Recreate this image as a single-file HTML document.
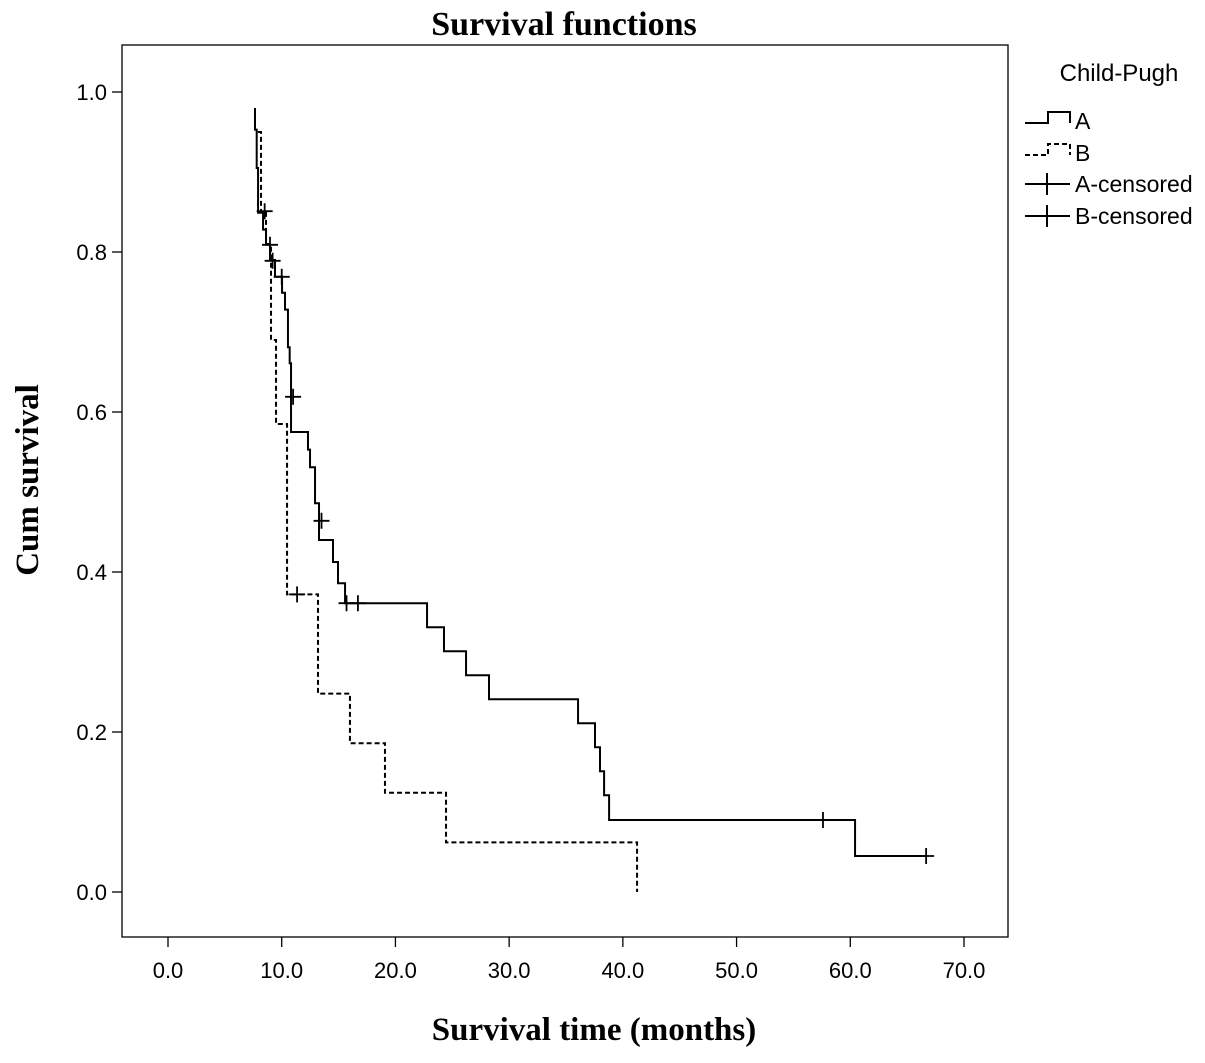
<!DOCTYPE html>
<html><head><meta charset="utf-8"><style>
body{margin:0;background:#fff}
svg text{font-family:"Liberation Sans",sans-serif}
</style></head><body>
<svg id="chart" width="1205" height="1058" xmlns="http://www.w3.org/2000/svg">
<rect width="1205" height="1058" fill="#fff"/>
<text x="564" y="35" text-anchor="middle" style="font-family:'Liberation Serif',serif" font-weight="bold" font-size="34">Survival functions</text>
<rect x="122" y="45" width="886" height="892" fill="none" stroke="#000" stroke-width="1.3"/>
<g id="axes"></g>
<g id="series"></g>
<text transform="translate(38,480) rotate(-90)" text-anchor="middle" style="font-family:'Liberation Serif',serif" font-weight="bold" font-size="33">Cum survival</text>
<text x="594" y="1040" text-anchor="middle" style="font-family:'Liberation Serif',serif" font-weight="bold" font-size="33">Survival time (months)</text>
<g>
<text x="1119" y="81" text-anchor="middle" font-size="24">Child-Pugh</text>
<path d="M1025,123 H1048 V112 H1070 V123" fill="none" stroke="#000" stroke-width="2"/>
<text x="1075" y="129" font-size="23">A</text>
<path d="M1025,155 H1048 V144 H1070 V155" fill="none" stroke="#000" stroke-width="2" stroke-dasharray="5,3"/>
<text x="1075" y="161" font-size="23">B</text>
<path d="M1025,184 H1070 M1047,173 V195" stroke="#000" stroke-width="2"/>
<text x="1075" y="192" font-size="23">A-censored</text>
<path d="M1025,216 H1070 M1047,205 V227" stroke="#000" stroke-width="2"/>
<text x="1075" y="224" font-size="23">B-censored</text>
</g>
</svg>
<script>
const xTicks=[0,10,20,30,40,50,60,70];
const yTicks=[0,0.2,0.4,0.6,0.8,1.0];
const aStart=[7.65,0.98];
const aTimes=[7.65,7.8,7.92,8.36,8.62,8.97,9.41,10.03,10.29,10.55,10.7,10.82,12.31,12.49,12.93,13.28,14.51,14.95,15.57,22.78,24.27,26.21,28.23,36.06,37.55,37.99,38.35,38.79,60.42];
const aSurv=[0.953,0.905,0.849,0.828,0.809,0.79,0.769,0.749,0.728,0.681,0.661,0.575,0.553,0.531,0.486,0.44,0.4125,0.386,0.361,0.331,0.301,0.271,0.241,0.211,0.181,0.151,0.121,0.09,0.045];
const aEnd=66.67;
const aCensT=[8.5,8.97,9.2,10.0,11.0,13.5,15.7,16.7,57.6,66.67];
const aCensS=[0.851,0.809,0.789,0.769,0.619,0.464,0.361,0.361,0.09,0.045];
const bStart=[7.9,0.95];
const bTimes=[8.18,8.62,9.06,9.5,10.47,13.19,16.0,19.08,24.45,41.25];
const bSurv=[0.85,0.81,0.69,0.585,0.372,0.248,0.186,0.124,0.062,0];
const bCensT=[11.35];
const bCensS=[0.372];
const NS="http://www.w3.org/2000/svg";
const X=t=>168+t*(964-168)/70, Y=s=>892-800*s;
function mk(tag,attrs,parent){const e=document.createElementNS(NS,tag);for(const k in attrs)e.setAttribute(k,attrs[k]);parent.appendChild(e);return e;}
const ax=document.getElementById('axes'), se=document.getElementById('series');
xTicks.forEach(v=>{
 const l=mk('line',{x1:X(v),x2:X(v),y1:937,y2:947,stroke:'#000','stroke-width':1.3},ax);
 
 
 const t=mk('text',{x:X(v),y:978,'text-anchor':'middle','font-size':22},ax);t.textContent=v.toFixed(1);
 
 
});
yTicks.forEach(v=>{
 const l=mk('line',{x1:112,x2:122,y1:Y(v),y2:Y(v),stroke:'#000','stroke-width':1.3},ax);
 
 
 const t=mk('text',{x:107,y:Y(v)+8,'text-anchor':'end','font-size':22},ax);t.textContent=v.toFixed(1);
 
 
});
function stepPath(start,times,surv,end){
 let d=`M${X(start[0])},${Y(start[1])}`;
 times.forEach((t,i)=>{d+=` H${X(t)} V${Y(surv[i])}`;});
 if(end!==undefined)d+=` H${X(end)}`;return d;
}
const pa=mk('path',{d:stepPath(aStart,aTimes,aSurv,aEnd),fill:'none',stroke:'#000','stroke-width':2},se);


const pb=mk('path',{d:stepPath(bStart,bTimes,bSurv),fill:'none',stroke:'#000','stroke-width':2,'stroke-dasharray':'5,3'},se);


function cens(ts,ss,name){ts.forEach((t,i)=>{
 const p=mk('path',{d:`M${X(t)-8},${Y(ss[i])} H${X(t)+8} M${X(t)},${Y(ss[i])-8} V${Y(ss[i])+8}`,stroke:'#000','stroke-width':1.8},se);
 
 
});}
cens(aCensT,aCensS,'a-censored-mark');
cens(bCensT,bCensS,'b-censored-mark');
</script>
</body></html>
